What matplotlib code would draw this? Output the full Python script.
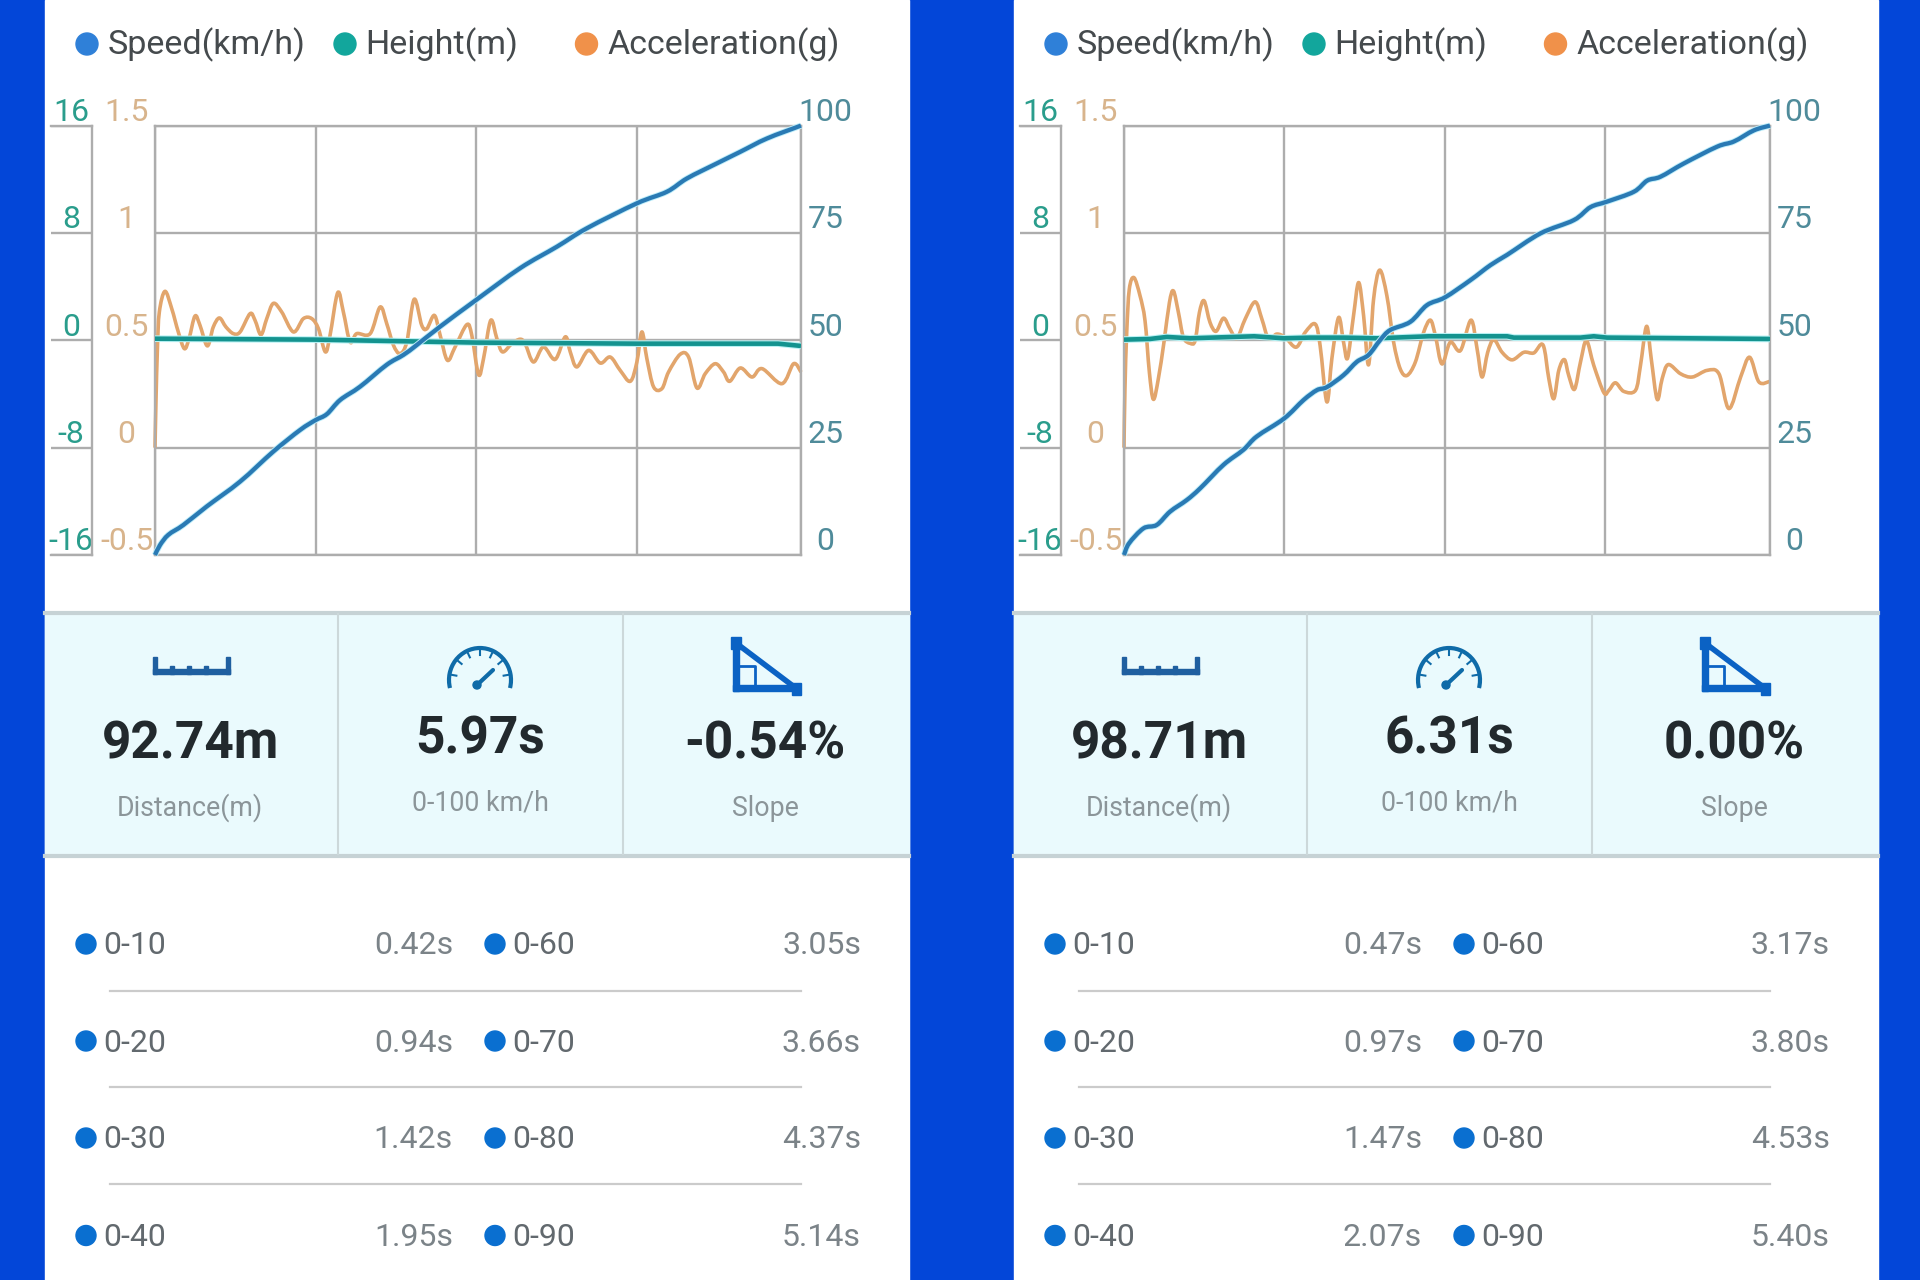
import matplotlib
matplotlib.use("Agg")
import matplotlib.pyplot as plt
import numpy as np
from matplotlib.patches import Circle, Rectangle, Arc, PathPatch
from matplotlib.path import Path
from matplotlib.transforms import ScaledTranslation

plt.rcParams['font.family'] = ['Roboto', 'DejaVu Sans']

W, H = 1920, 1280
PANEL_SHIFT = 969
PANEL_W = 864

BLUE_BG = '#0346d8'
BAND = '#eafafd'
GRID = '#adadad'
SPEED_C = '#2a7ab4'
HEIGHT_C = '#14938f'
ACCEL_C = '#e2a56c'

legend_names = ['Speed(km/h)', 'Height(m)', 'Acceleration(g)']
legend_colors = ['#2f80d8', '#12a69c', '#f0914a']

speed_ticks = [0, 25, 50, 75, 100]
speed_labels = ['0', '25', '50', '75', '100']
accel_ticks = [-0.5, 0, 0.5, 1, 1.5]
accel_labels = ['-0.5', '0', '0.5', '1', '1.5']
height_ticks = [-16, -8, 0, 8, 16]
height_labels = ['-16', '-8', '0', '8', '16']

# first run
a_speed_x = [0, .031, .083, .177, .322, .530, .737, .903, .999, 1.070, 1.153, 1.277, 1.443, 1.547, 1.630, 1.776,
             2.0, 2.274, 2.503, 2.690, 3.001, 3.188, 3.313, 3.499, 3.645, 3.811, 4.023]
a_speed = [0, 2.3, 4.7, 7.0, 11.3, 17.1, 24.1, 29.1, 31.4, 32.8, 36.1, 39.2, 44.3, 46.6, 48.9, 53.2,
           59.4, 66.8, 71.8, 76.1, 81.9, 84.6, 87.7, 91.2, 93.9, 97.0, 100]
a_height_x = [0, 1.0, 2.0, 3.0, 3.88, 4.023]
a_height = [.12, .05, -.17, -.25, -.25, -.42]
a_accel_x = [0, .006, .015, .027, .062, .104, .145, .183, .212, .249, .280, .326, .363, .401, .442, .488, .530,
             .592, .623, .660, .696, .737, .789, .862, .924, .976, 1.018, 1.061, 1.090, 1.138, 1.173, 1.215,
             1.256, 1.340, 1.402, 1.443, 1.485, 1.526, 1.568, 1.614, 1.661, 1.693, 1.740, 1.776, 1.821,
             1.869, 1.942, 1.973, 2.015, 2.046, 2.091, 2.129, 2.164, 2.222, 2.274, 2.305, 2.357, 2.419, 2.492,
             2.555, 2.586, 2.627, 2.700, 2.773, 2.835, 2.897, 2.960, 3.001, 3.032, 3.063, 3.105, 3.157, 3.198,
             3.271, 3.323, 3.375, 3.427, 3.489, 3.541, 3.579, 3.645, 3.718, 3.780, 3.904, 3.977, 4.023]
a_accel = [0, .213, .461, .632, .728, .648, .539, .461, .508, .613, .570, .474, .562, .604, .562, .531, .539,
           .624, .593, .526, .601, .672, .632, .539, .601, .601, .554, .446, .523, .722, .632, .492,
           .531, .531, .655, .578, .477, .438, .492, .691, .570, .554, .616, .523, .407,
           .469, .573, .523, .340, .415, .593, .508, .446, .484, .505, .484, .399, .469, .411,
           .516, .446, .376, .453, .394, .422, .360, .309, .399, .539, .415, .283, .275, .352,
           .435, .422, .278, .345, .391, .352, .309, .371, .329, .368, .298, .391, .352]

# second run
b_speed_x = [0, .031, .121, .204, .287, .391, .474, .620, .744, .827, .998, 1.119, 1.202, 1.264, 1.368, 1.451,
             1.524, 1.597, 1.659, 1.784, 1.888, 2.0, 2.158, 2.283, 2.387, 2.595, 2.803, 2.906, 3.010, 3.177,
             3.260, 3.343, 3.489, 3.696, 3.800, 3.925, 4.025]
b_speed = [0, 2.7, 6.2, 7.0, 10.1, 12.8, 15.5, 21.0, 24.5, 27.6, 31.8, 36.1, 38.4, 39.1, 41.9, 45.0,
           46.6, 50.1, 52.4, 54.3, 58.2, 60.0, 64.0, 67.5, 69.9, 74.9, 78.0, 81.0, 82.3, 84.6,
           87.2, 88.1, 91.2, 95.1, 96.3, 98.9, 100]
b_height_x = [0, .162, .266, .412, .811, .998, 1.160, 1.368, 1.576, 1.9, 2.0, 2.387, 2.429, 2.844, 2.927, 3.010, 4.025]
b_height = [.05, .1, .25, .15, .3, .15, .2, .2, .15, .3, .3, .3, .2, .2, .3, .2, .1]
b_accel_x = [0, .006, .017, .033, .062, .100, .131, .158, .183, .214, .249, .283, .308, .339, .370, .412, .443,
             .470, .499, .536, .574, .620, .661, .703, .755, .817, .859, .900, .952, 1.004, 1.073, 1.129, 1.191,
             1.222, 1.264, 1.295, 1.337, 1.368, 1.393, 1.430, 1.462, 1.493, 1.524, 1.555, 1.593, 1.638, 1.680,
             1.721, 1.763, 1.815, 1.867, 1.909, 1.940, 1.981, 2.033, 2.096, 2.162, 2.200, 2.231, 2.266, 2.304,
             2.356, 2.418, 2.491, 2.553, 2.611, 2.647, 2.678, 2.709, 2.744, 2.771, 2.807, 2.844, 2.881, 2.927,
             2.990, 3.021, 3.062, 3.114, 3.187, 3.218, 3.256, 3.285, 3.322, 3.353, 3.391, 3.468, 3.541, 3.634,
             3.707, 3.769, 3.842, 3.898, 3.956, 4.025]
b_accel = [0, .275, .537, .738, .792, .707, .591, .352, .225, .321, .491, .676, .730, .630, .514, .486, .498,
           .630, .684, .583, .542, .603, .552, .509, .599, .679, .599, .509, .529, .514, .468, .537, .576,
           .475, .213, .414, .606, .491, .417, .614, .769, .614, .386, .691, .827, .707, .491,
           .367, .336, .398, .537, .594, .522, .390, .491, .452, .594, .460, .329, .444, .503,
           .444, .409, .444, .441, .478, .321, .228, .360, .410, .336, .272, .398, .498, .383,
           .256, .267, .302, .262, .267, .383, .565, .414, .225, .321, .387, .344, .329, .360,
           .344, .182, .329, .421, .306, .309]

a_stats = ['92.74m', '5.97s', '-0.54%']
b_stats = ['98.71m', '6.31s', '0.00%']
stat_names = ['Distance(m)', '0-100 km/h', 'Slope']

split_left = ['0-10', '0-20', '0-30', '0-40']
split_right = ['0-60', '0-70', '0-80', '0-90']
a_times_left = ['0.42s', '0.94s', '1.42s', '1.95s']
a_times_right = ['3.05s', '3.66s', '4.37s', '5.14s']
b_times_left = ['0.47s', '0.97s', '1.47s', '2.07s']
b_times_right = ['3.17s', '3.80s', '4.53s', '5.40s']


def px_axes(fig, left, top, right, bottom):
    return fig.add_axes([left / W, 1 - bottom / H, (right - left) / W, (bottom - top) / H])


def tick_text(ax, color, pad, size=23):
    ax.tick_params(axis='y', length=0, labelsize=size, labelcolor=color, pad=pad)
    down = ScaledTranslation(0, -1.5 / 100, ax.figure.dpi_scale_trans)
    for lab in ax.get_yticklabels():
        lab.set_ha('center')
        lab.set_va('bottom')
        lab.set_transform(lab.get_transform() + down)


def smooth_line(ax, x, y, **kw):
    # same look as the app's curved lines: cubic segments through the read points
    pts = np.column_stack([x, y])
    before = np.vstack([pts[0], pts[:-1]])
    after = np.vstack([pts[1:], pts[-1]])
    tang = (after - before) / 6
    verts = [pts[0]]
    codes = [Path.MOVETO]
    for i in range(len(pts) - 1):
        verts += [pts[i] + tang[i], pts[i + 1] - tang[i + 1], pts[i + 1]]
        codes += [Path.CURVE4] * 3
    ax.add_patch(PathPatch(Path(verts, codes), fill=False, joinstyle='round', clip_on=False, **kw))


def draw_chart(fig, dx, speed_x, speed, height_x, height, accel_x, accel):
    # small axis on the far left only carries the height scale
    mini = px_axes(fig, 51 + dx, 125.6, 92 + dx, 555)
    mini.set_xlim(0, 1)
    mini.set_ylim(-16, 16)
    mini.set_xticks([])
    mini.set_yticks(height_ticks)
    mini.set_yticklabels(height_labels)
    mini.grid(axis='y', color=GRID, lw=1.7)
    mini.spines['left'].set_visible(False)
    for s in mini.spines.values():
        s.set_color(GRID)
        s.set_linewidth(1.7)
    tick_text(mini, '#2a9d8c', -14.5)

    ax = px_axes(fig, 155 + dx, 125.6, 801 + dx, 555)
    xmax = accel_x[-1]
    ax.set_xlim(0, xmax)
    ax.set_ylim(-0.5, 1.5)
    ax.set_xticks([0, 1, 2, 3, xmax])
    ax.set_xticklabels([])
    ax.set_yticks(accel_ticks)
    ax.set_yticklabels(accel_labels)
    ax.tick_params(axis='x', length=0)
    ax.grid(color=GRID, lw=1.7)
    ax.set_axisbelow(True)
    for s in ax.spines.values():
        s.set_color(GRID)
        s.set_linewidth(1.7)
    tick_text(ax, '#d8b48c', 20.5)
    smooth_line(ax, accel_x, accel, edgecolor=ACCEL_C, lw=2.6)

    ax_h = ax.twinx()
    ax_h.set_ylim(-16, 16)
    ax_h.axis('off')
    ax_h.plot(height_x, height, color='#b8f2f4', lw=4.8, solid_capstyle='butt')
    ax_h.plot(height_x, height, color=HEIGHT_C, lw=3.3, solid_capstyle='butt')

    ax_s = ax.twinx()
    ax_s.set_ylim(0, 100)
    ax_s.set_yticks(speed_ticks)
    ax_s.set_yticklabels(speed_labels)
    ax_s.grid(False)
    for s in ax_s.spines.values():
        s.set_visible(False)
    tick_text(ax_s, '#4f8b9a', 17.5)
    smooth_line(ax_s, speed_x, speed, edgecolor='#bdeefa', lw=4.4)
    smooth_line(ax_s, speed_x, speed, edgecolor=SPEED_C, lw=3.1)


def draw_icons(bg, dx):
    c = '#1f5fa0'
    bg.add_patch(Rectangle((153 + dx, 669), 77, 5, color=c))
    for tx, th in [(153, 17), (226, 17), (170, 8), (187, 8), (204, 8)]:
        bg.add_patch(Rectangle((tx + dx, 674 - th), 4, th, color=c))

    c = '#0f6ba8'
    bg.add_patch(Arc((480 + dx, 680), 62, 64, theta1=165, theta2=375, color=c, lw=3))
    for ang in np.deg2rad([170, 140, 115, 90, 65, 40, 10]):
        bg.plot([480 + dx + 30 * np.cos(ang), 480 + dx + 24 * np.cos(ang)],
                [680 - 31 * np.sin(ang), 680 - 25 * np.sin(ang)], color=c, lw=1.5)
    bg.plot([477 + dx, 493 + dx], [685, 670], color=c, lw=3, solid_capstyle='round')
    bg.add_patch(Circle((477 + dx, 685), 4, color=c))

    c = '#0b62c4'
    bg.add_patch(Rectangle((731 + dx, 637), 10, 12, color=c))
    bg.add_patch(Rectangle((733 + dx, 645), 6, 46, color=c))
    bg.add_patch(Rectangle((733 + dx, 685), 66, 6, color=c))
    bg.add_patch(Rectangle((792 + dx, 683), 9, 12, color=c))
    bg.plot([736 + dx, 797 + dx], [643, 689], color=c, lw=4)
    bg.plot([737 + dx, 755 + dx, 755 + dx], [666, 666, 688], color=c, lw=2)


def draw_panel(fig, bg, dx, stats, times_left, times_right):
    right = 45 + PANEL_W + dx
    bg.add_patch(Rectangle((45 + dx, 0), PANEL_W, H, color='white', zorder=0))
    bg.add_patch(Rectangle((45 + dx, 613), PANEL_W, 243, color=BAND, zorder=0))
    bg.plot([45 + dx, right], [613, 613], color='#c6d2d5', lw=3)
    bg.plot([45 + dx, right], [856, 856], color='#c6d2d5', lw=3)
    for sx in [338, 623]:
        bg.plot([sx + dx, sx + dx], [614, 854], color='#ccd8da', lw=1.5)

    for lx, tx, name, col in zip([87, 345, 586.5], [108, 365, 607], legend_names, legend_colors):
        bg.add_patch(Circle((lx + dx, 44), 11, color=col))
        bg.text(tx + dx, 45, name, fontsize=24.5, color='#454a4d', va='center', ha='left')

    for cx, cy, val, sub_y, name in zip([190, 480, 765], [744.5, 740, 744.5], stats, [808, 803, 808], stat_names):
        bg.text(cx + dx, cy, val, fontsize=37, fontweight='bold', color='#22292d', ha='center', va='center')
        bg.text(cx + dx, sub_y, name, fontsize=19.3, color='#8b9599', ha='center', va='center')
    draw_icons(bg, dx)

    row_y = [944, 1041, 1138, 1235.5]
    for i, y in enumerate(row_y):
        bg.add_patch(Circle((86 + dx, y), 10, color='#0a6fd0'))
        bg.add_patch(Circle((495 + dx, y), 10, color='#0a6fd0'))
        ty = y + 2
        bg.text(103 + dx, ty, split_left[i], fontsize=23, color='#62696e', ha='left', va='center')
        bg.text(512 + dx, ty, split_right[i], fontsize=23, color='#62696e', ha='left', va='center')
        bg.text(453 + dx, ty, times_left[i], fontsize=23, color='#7b8388', ha='right', va='center')
        bg.text(861 + dx, ty, times_right[i], fontsize=23, color='#7b8388', ha='right', va='center')
    for y in [991, 1087, 1184]:
        bg.plot([110 + dx, 801 + dx], [y, y], color='#cbcbcb', lw=1.6)


fig = plt.figure(figsize=(W / 100, H / 100), dpi=100, facecolor=BLUE_BG)
bg = fig.add_axes([0, 0, 1, 1])
bg.set_xlim(0, W)
bg.set_ylim(H, 0)
bg.axis('off')

draw_panel(fig, bg, 0, a_stats, a_times_left, a_times_right)
draw_panel(fig, bg, PANEL_SHIFT, b_stats, b_times_left, b_times_right)
draw_chart(fig, 0, a_speed_x, a_speed, a_height_x, a_height, a_accel_x, a_accel)
draw_chart(fig, PANEL_SHIFT, b_speed_x, b_speed, b_height_x, b_height, b_accel_x, b_accel)

fig.savefig('out.png', dpi=100, facecolor=BLUE_BG)
